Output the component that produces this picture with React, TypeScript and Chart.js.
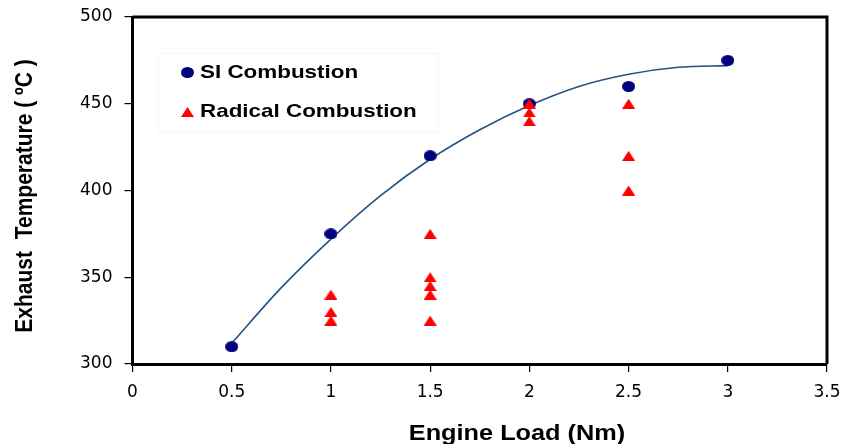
import React, { useEffect, useRef } from "react";
import { Chart, registerables } from "chart.js";

Chart.register(...registerables);

const siLoad = [0.5, 1, 1.5, 2, 2.5, 3];
const siTemp = [310, 375, 420, 450, 460, 475];

const radicalLoad = [1, 1, 1, 1.5, 1.5, 1.5, 1.5, 1.5, 2, 2, 2, 2.5, 2.5, 2.5];
const radicalTemp = [340, 330, 325, 375, 350, 345, 340, 325, 450, 445, 440, 450, 420, 400];

const trendLoad = [0.5, 0.75, 1, 1.25, 1.5, 1.75, 2, 2.25, 2.5, 2.75, 3];
const trendTemp = [312, 344, 372, 397, 418, 435, 449, 460, 467, 471, 472];

const seriesNames = ["SI Combustion", "Radical Combustion"];
const xTitle = "Engine Load (Nm)";
const yTitle = "Exhaust  Temperature ( \u00BAC )";

const NAVY = "#00007f";
const RED = "#ff0000";
const TREND = "#25527f";
const FONT = "'Liberation Sans', Arial, sans-serif";
const TICK_FONT = "'DejaVu Sans', 'Liberation Sans', sans-serif";

function ellipseMarker(color: string, w: number, h: number) {
  const c = document.createElement("canvas");
  c.width = w;
  c.height = h;
  const ctx = c.getContext("2d")!;
  ctx.fillStyle = color;
  ctx.beginPath();
  ctx.ellipse(w / 2, h / 2, w / 2, h / 2, 0, 0, Math.PI * 2);
  ctx.fill();
  return c;
}

function triangleMarker(color: string, w: number, h: number) {
  const c = document.createElement("canvas");
  c.width = w;
  c.height = h;
  const ctx = c.getContext("2d")!;
  ctx.fillStyle = color;
  ctx.beginPath();
  ctx.moveTo(w / 2, 0);
  ctx.lineTo(w, h);
  ctx.lineTo(0, h);
  ctx.closePath();
  ctx.fill();
  return c;
}

export default function App() {
  const ref = useRef<HTMLCanvasElement | null>(null);

  useEffect(() => {
    if (!ref.current) return;
    const dot = ellipseMarker(NAVY, 13, 11);
    const tri = triangleMarker(RED, 13, 10);

    const decor = {
      id: "decor",
      afterDraw(chart: any) {
        const ctx = chart.ctx as CanvasRenderingContext2D;
        const a = chart.chartArea;
        ctx.save();
        // top & right frame
        ctx.strokeStyle = "#000";
        ctx.lineWidth = 3;
        ctx.beginPath();
        ctx.moveTo(a.left, a.top);
        ctx.lineTo(a.right, a.top);
        ctx.lineTo(a.right, a.bottom);
        ctx.stroke();

        // legend box (faint)
        ctx.strokeStyle = "#f6f6f6";
        ctx.lineWidth = 1;
        ctx.strokeRect(158.5, 53.5, 280, 79);

        // legend entries
        ctx.drawImage(dot, 181, 67);
        ctx.drawImage(tri, 181, 107);
        ctx.fillStyle = "#000";
        ctx.font = `bold 19px ${FONT}`;
        ctx.textBaseline = "middle";
        ctx.textAlign = "left";
        ctx.save();
        ctx.translate(200, 73);
        ctx.scale(1.18, 1);
        ctx.fillText(seriesNames[0], 0, 0);
        ctx.restore();
        ctx.save();
        ctx.translate(200, 112);
        ctx.scale(1.18, 1);
        ctx.fillText(seriesNames[1], 0, 0);
        ctx.restore();

        // x title
        ctx.font = `bold 22px ${FONT}`;
        ctx.textAlign = "center";
        ctx.textBaseline = "alphabetic";
        ctx.save();
        ctx.translate(517, 440);
        ctx.scale(1.15, 1);
        ctx.fillText(xTitle, 0, 0);
        ctx.restore();

        // y title
        ctx.font = `bold 21px ${FONT}`;
        ctx.save();
        ctx.translate(25, 196);
        ctx.rotate(-Math.PI / 2);
        ctx.scale(1, 1.15);
        ctx.textBaseline = "middle";
        ctx.fillText(yTitle, 0, 0);
        ctx.restore();
        ctx.restore();
      },
    };

    const chart = new Chart(ref.current, {
      type: "scatter",
      data: {
        datasets: [
          {
            type: "line",
            label: "trend",
            data: trendLoad.map((x, i) => ({ x, y: trendTemp[i] })),
            borderColor: TREND,
            borderWidth: 1.6,
            pointRadius: 0,
            tension: 0.4,
            cubicInterpolationMode: "monotone",
            fill: false,
            order: 3,
          } as any,
          {
            label: seriesNames[0],
            data: siLoad.map((x, i) => ({ x, y: siTemp[i] })),
            pointStyle: dot,
            backgroundColor: NAVY,
            borderColor: NAVY,
            order: 2,
          },
          {
            label: seriesNames[1],
            data: radicalLoad.map((x, i) => ({ x, y: radicalTemp[i] })),
            pointStyle: tri,
            backgroundColor: RED,
            borderColor: RED,
            order: 1,
          },
        ],
      },
      options: {
        animation: false,
        responsive: false,
        layout: { padding: { left: 0, right: 17, top: 17, bottom: 0 } },
        plugins: {
          legend: { display: false },
          tooltip: { enabled: false },
          title: { display: false },
        },
        scales: {
          x: {
            type: "linear",
            min: 0,
            max: 3.5,
            afterFit: (s: any) => {
              s.height = 80;
              s.paddingLeft = 0;
              s.paddingRight = 0;
            },
            border: { display: true, color: "#000", width: 3 },
            grid: {
              display: true,
              drawOnChartArea: false,
              drawTicks: true,
              tickLength: 8,
              color: "#000",
              lineWidth: 1.2,
            },
            ticks: {
              stepSize: 0.5,
              color: "#000",
              padding: 10,
              font: { family: TICK_FONT, size: 17 },
              callback: (v: any) => String(v),
            },
          },
          y: {
            type: "linear",
            min: 300,
            max: 500,
            afterFit: (s: any) => {
              s.width = 132.5;
              s.paddingTop = 0;
              s.paddingBottom = 0;
            },
            border: { display: true, color: "#000", width: 3 },
            grid: {
              display: true,
              drawOnChartArea: false,
              drawTicks: true,
              tickLength: 8,
              color: "#000",
              lineWidth: 1.2,
            },
            ticks: {
              stepSize: 50,
              color: "#000",
              padding: 12,
              font: { family: TICK_FONT, size: 17 },
              callback: (v: any) => String(v),
            },
          },
        },
      },
      plugins: [decor],
    });
    return () => chart.destroy();
  }, []);

  return (
    <div style={{ position: "fixed", left: 0, top: 0, width: 844, height: 444, background: "#fff" }}>
      <canvas ref={ref} width={844} height={444} />
    </div>
  );
}
